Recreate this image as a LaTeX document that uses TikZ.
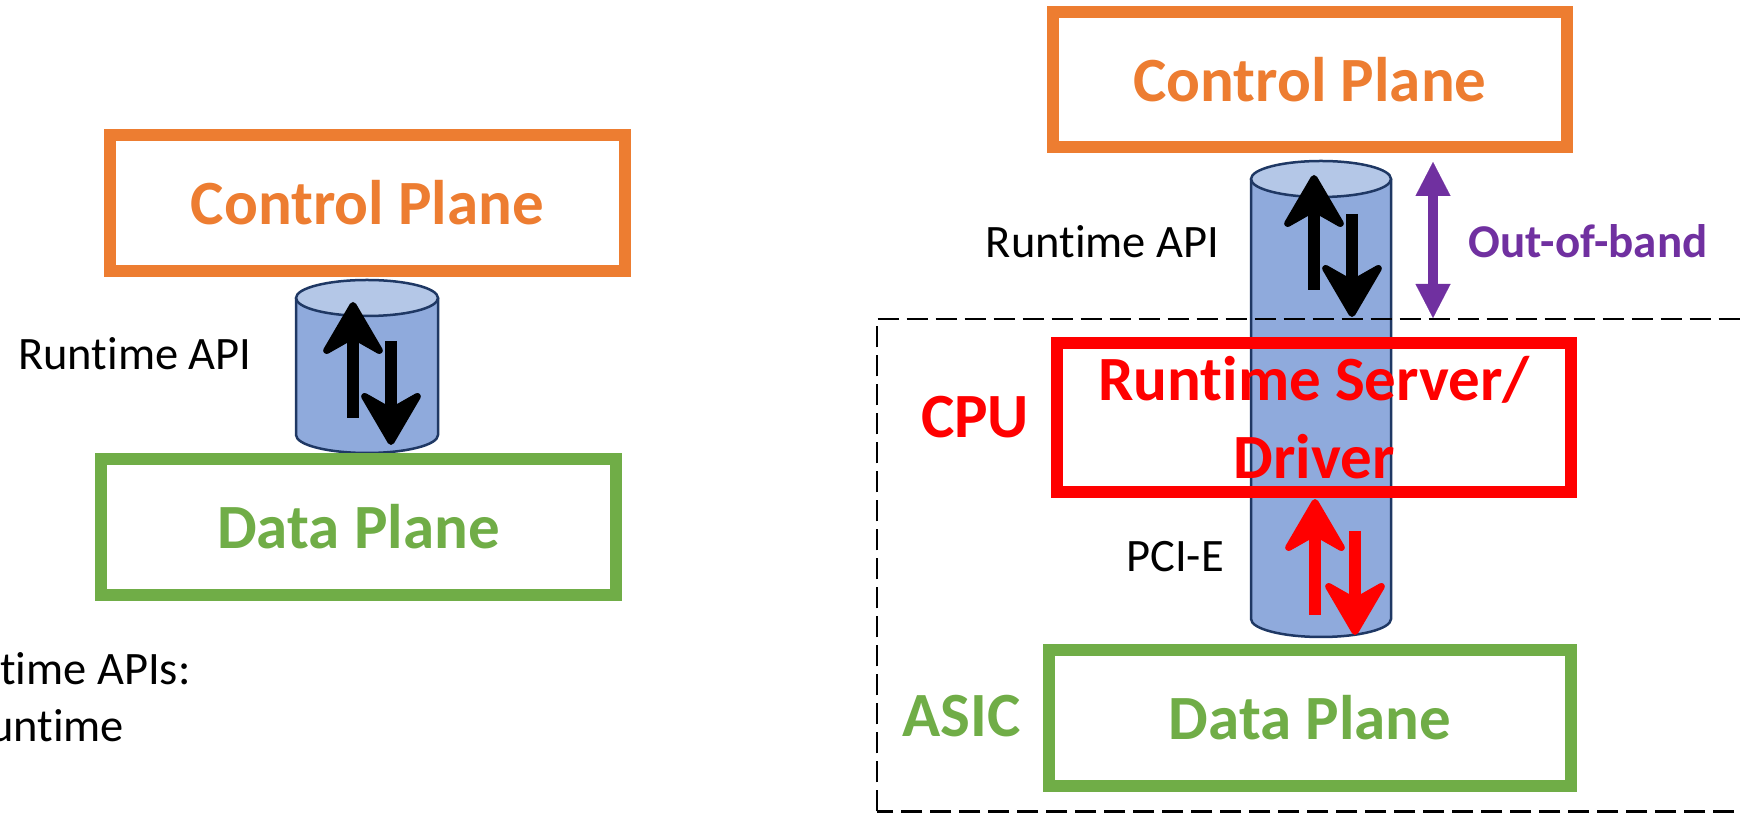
\documentclass[tikz,border=0pt]{standalone}
\usepackage{fontspec}
\setmainfont{Carlito}[Ligatures=NoCommon]
\usetikzlibrary{arrows.meta}
\definecolor{cporange}{HTML}{ED7D31}
\definecolor{dpgreen}{HTML}{70AD47}
\definecolor{rsred}{HTML}{FF0000}
\definecolor{oobpurple}{HTML}{7030A0}
\definecolor{cylbody}{HTML}{8FAADC}
\definecolor{cyltop}{HTML}{B4C7E7}
\definecolor{cylline}{HTML}{1F3864}
\begin{document}
\begin{tikzpicture}[x=1pt,y=1pt,
  box/.style={draw, line width=12pt, inner sep=0pt, align=center,
    font=\fontsize{63}{78}\selectfont\bfseries},
  lbl/.style={font=\fontsize{46.5}{57}\selectfont, inner sep=0pt},
  biglbl/.style={font=\fontsize{63}{78}\selectfont\bfseries, inner sep=0pt},
  cyledge/.style={draw=cylline, line width=2.5pt},
  dashbox/.style={draw=black, line width=2.8pt, dash pattern=on 21pt off 8pt},
  flowarrow/.style={line width=12pt,
    -{Stealth[length=61pt, width=71pt, inset=20pt, round, line width=7pt]}},
  oobarrow/.style={line width=10pt, draw=oobpurple,
    {Triangle[length=34pt, width=35pt, line width=0.1pt]}-{Triangle[length=34pt, width=35pt, line width=0.1pt]}}
]
\clip (0,0) rectangle (1742,813);

% ---------- left cylinder ----------
\fill[cylbody] (296,515) -- (296,378) arc[start angle=180, end angle=360, x radius=71, y radius=18] -- (438,515) -- cycle;
\draw[cyledge] (296,515) -- (296,378) arc[start angle=180, end angle=360, x radius=71, y radius=18] -- (438,515);
\draw[cyledge, fill=cyltop] (367,515) ellipse [x radius=71, y radius=18];

% ---------- right cylinder ----------
\fill[cylbody] (1251,634) -- (1251,194) arc[start angle=180, end angle=360, x radius=70, y radius=18] -- (1391,634) -- cycle;
\draw[cyledge] (1251,634) -- (1251,194) arc[start angle=180, end angle=360, x radius=70, y radius=18] -- (1391,634);
\draw[cyledge, fill=cyltop] (1321,634) ellipse [x radius=70, y radius=18];

% ---------- dashed enclosure ----------
\draw[dashbox] (877,1.5) rectangle (1770,494);

% ---------- boxes ----------
\node[box, draw=cporange, text=cporange, minimum width=515pt, minimum height=136pt] (cpL) at (367.5,610) {Control Plane};
\node[box, draw=dpgreen, text=dpgreen, minimum width=515pt, minimum height=136pt] (dpL) at (358.5,286) {Data Plane};
\node[box, draw=cporange, text=cporange, minimum width=514pt, minimum height=135pt] (cpR) at (1310,733.5) {Control Plane};
\node[box, draw=rsred, text=rsred, minimum width=514pt, minimum height=149pt] (rsR) at (1314,395.5) {Runtime Server/\\Driver};
\node[box, draw=dpgreen, text=dpgreen, minimum width=522pt, minimum height=136pt] (dpR) at (1310,95) {Data Plane};

% ---------- arrow end points ----------
\coordinate (lu0) at (353,395);  \coordinate (lu1) at (353,511);
\coordinate (ld0) at (391,472);  \coordinate (ld1) at (391,368);
\coordinate (ru0) at (1314,523); \coordinate (ru1) at (1314,638);
\coordinate (rd0) at (1352,599); \coordinate (rd1) at (1352,496);
\coordinate (pu0) at (1315,198); \coordinate (pu1) at (1315,314);
\coordinate (pd0) at (1355,282); \coordinate (pd1) at (1355,178);
\coordinate (ob0) at (1433,651); \coordinate (ob1) at (1433,495);

% ---------- arrows ----------
\draw[flowarrow, draw=black] (lu0) -- (lu1);
\draw[flowarrow, draw=black] (ld0) -- (ld1);
\draw[flowarrow, draw=black] (ru0) -- (ru1);
\draw[flowarrow, draw=black] (rd0) -- (rd1);
\draw[flowarrow, draw=rsred] (pu0) -- (pu1);
\draw[flowarrow, draw=rsred] (pd0) -- (pd1);
\draw[oobarrow] (ob0) -- (ob1);

% ---------- labels ----------
\node[lbl, anchor=base] (apiL) at (135,443) {Runtime API};
\node[lbl, anchor=base] (apiR) at (1102.5,555) {Runtime API};
\node[biglbl, text=oobpurple, anchor=base, font=\fontsize{47}{57}\selectfont\bfseries] (oob) at (1588,555) {Out-of-band};
\node[lbl, anchor=base] (pcie) at (1175,241) {PCI-E};
\node[biglbl, text=rsred, anchor=base] (cpu) at (975,375) {CPU};
\node[biglbl, text=dpgreen, anchor=base] (asic) at (961.5,76) {ASIC};
\node[lbl, anchor=base west] (note1) at (0,128) {time APIs:};
\node[lbl, anchor=base west] (note2) at (-11,71) {untime};
\end{tikzpicture}
\end{document}
